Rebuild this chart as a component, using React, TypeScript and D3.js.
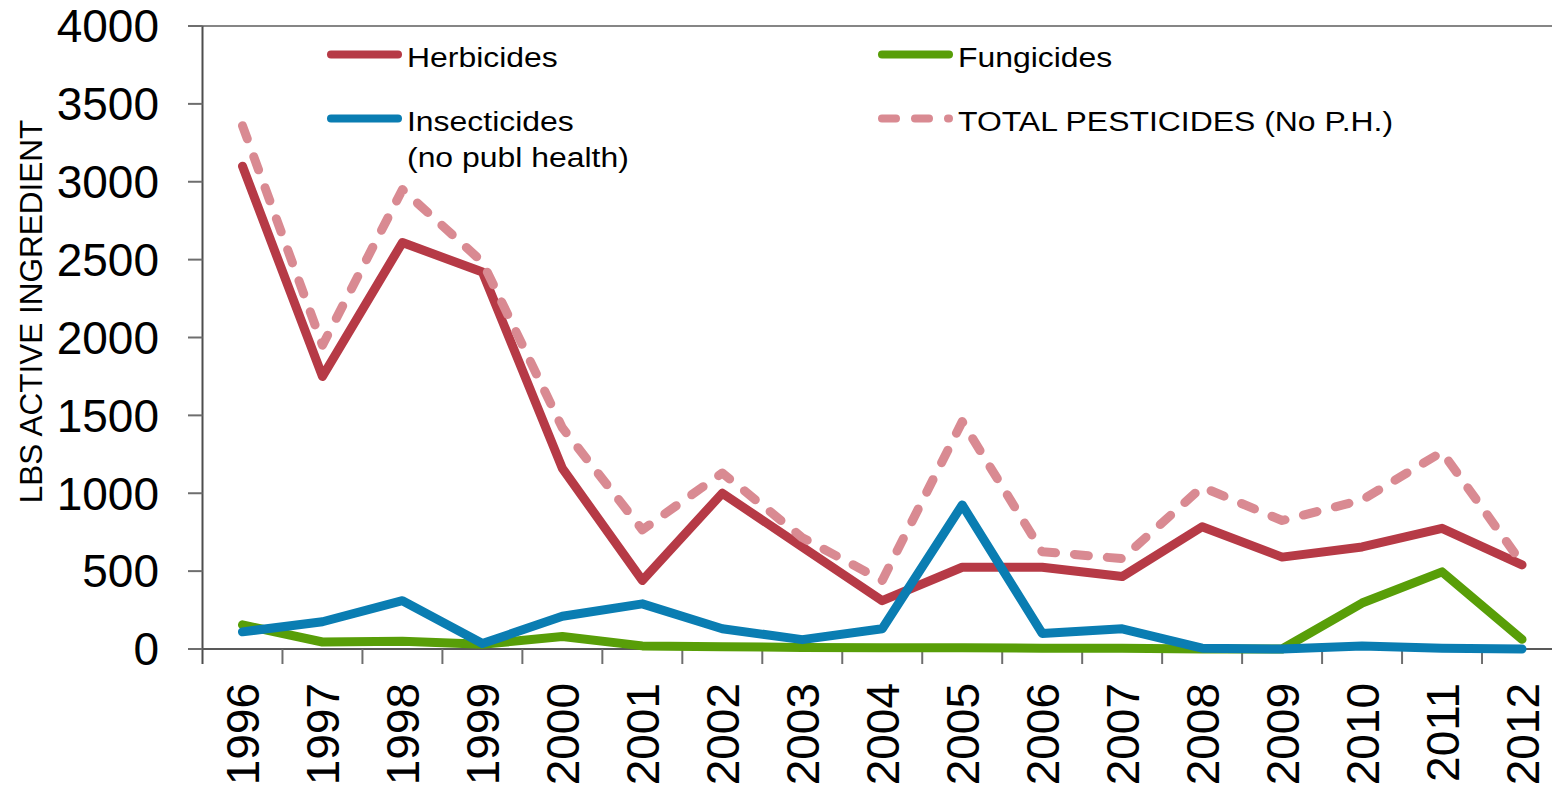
import * as d3 from 'd3';

// Pesticide use, lbs of active ingredient per year
const years = ['1996', '1997', '1998', '1999', '2000', '2001', '2002', '2003', '2004',
    '2005', '2006', '2007', '2008', '2009', '2010', '2011', '2012'];
const herbicides = [3100, 1750, 2610, 2420, 1160, 440, 1000, 655, 310, 525, 525, 465, 785, 590, 655, 775, 540];
const fungicides = [155, 45, 50, 30, 80, 20, 15, 10, 8, 8, 5, 5, 0, 0, 295, 495, 62];
const insecticides = [110, 175, 310, 35, 210, 290, 130, 60, 130, 925, 100, 130, 5, 0, 20, 5, 0];
const totalPesticides = [3360, 1950, 2950, 2485, 1420, 765, 1130, 715, 440, 1460, 625, 580, 1040, 825, 957, 1265, 550];
const yTicks = [0, 500, 1000, 1500, 2000, 2500, 3000, 3500, 4000];

interface Series {
    name: string[];
    values: number[];
    color: string;
    dashed: boolean;
}

// Order matters: Excel draws them in legend order
const series: Series[] = [
    { name: ['Herbicides'], values: herbicides, color: '#b63a46', dashed: false },
    { name: ['Fungicides'], values: fungicides, color: '#589e08', dashed: false },
    { name: ['Insecticides', '(no publ health)'], values: insecticides, color: '#0a7db2', dashed: false },
    { name: ['TOTAL PESTICIDES (No P.H.)'], values: totalPesticides, color: '#d98a92', dashed: true },
];

const width = 1552;
const height = 801;
const font = 'Liberation Sans, Arial, sans-serif';

export default function App() {
    // Plot area
    const left = 202.5;
    const right = 1562;
    const top = 26;
    const bottom = 649;

    const x = d3.scaleBand<string>().domain(years).range([left, right]).padding(0);
    const y = d3.scaleLinear().domain([0, 4000]).range([bottom, top]);
    const cx = (yr: string) => (x(yr) ?? 0) + x.bandwidth() / 2;

    const line = d3.line<number>()
        .x((_, i) => cx(years[i]))
        .y(d => y(d));

    // legend slots: row-wise, two columns
    const legendPos = [
        { lx: 331, ly: 54.5 },
        { lx: 882, ly: 54.5 },
        { lx: 331, ly: 118.5 },
        { lx: 882, ly: 118.5 },
    ];

    return (
        <svg width={width} height={height} style={{ position: 'absolute', left: 0, top: 0, background: '#fff' }}
             fontFamily={font}>
            {/* top border line at 4000 */}
            <line x1={188} x2={width} y1={y(4000)} y2={y(4000)} stroke="#868686" strokeWidth={2} />

            {/* y axis */}
            <line x1={left} x2={left} y1={top} y2={bottom + 15} stroke="#4d4d4d" strokeWidth={2} />
            {yTicks.map(t => (
                <g key={t}>
                    <line x1={188} x2={left} y1={y(t)} y2={y(t)} stroke="#6e6e6e" strokeWidth={2} />
                    <text x={159} y={y(t)} dy="0.355em" textAnchor="end" fontSize={46} fill="#000">{t}</text>
                </g>
            ))}
            <text transform={`translate(42, 311.5) rotate(-90)`} textAnchor="middle" fontSize={31.5} fill="#000">
                LBS ACTIVE INGREDIENT
            </text>

            {/* x axis */}
            <line x1={left} x2={width} y1={bottom} y2={bottom} stroke="#595959" strokeWidth={2} />
            {years.map(yr => (
                <g key={yr}>
                    <line x1={(x(yr) ?? 0) + x.bandwidth()} x2={(x(yr) ?? 0) + x.bandwidth()}
                          y1={bottom} y2={bottom + 15} stroke="#6e6e6e" strokeWidth={2} />
                    <text transform={`translate(${cx(yr) + 16.5}, 683) rotate(-90)`} textAnchor="end"
                          fontSize={46} fill="#000">{yr}</text>
                </g>
            ))}

            {/* series lines */}
            {series.map(s => (
                <path key={s.name[0]} d={line(s.values) ?? ''} fill="none" stroke={s.color}
                      strokeWidth={9} strokeLinejoin="round" strokeLinecap="round"
                      strokeDasharray={s.dashed ? '14 19' : undefined} />
            ))}

            {/* legend */}
            {series.map((s, i) => {
                const { lx, ly } = legendPos[i];
                return (
                    <g key={'lg' + s.name[0]}>
                        <line x1={lx} x2={lx + 67} y1={ly} y2={ly} stroke={s.color} strokeWidth={8}
                              strokeLinecap="round" strokeDasharray={s.dashed ? '14 19' : undefined} />
                        {s.name.map((n, j) => (
                            <text key={n} transform={`translate(${lx + 76}, ${ly + 12 + j * 36.5}) scale(1.14, 1)`}
                                  fontSize={28} fill="#000">{n}</text>
                        ))}
                    </g>
                );
            })}
        </svg>
    );
}
